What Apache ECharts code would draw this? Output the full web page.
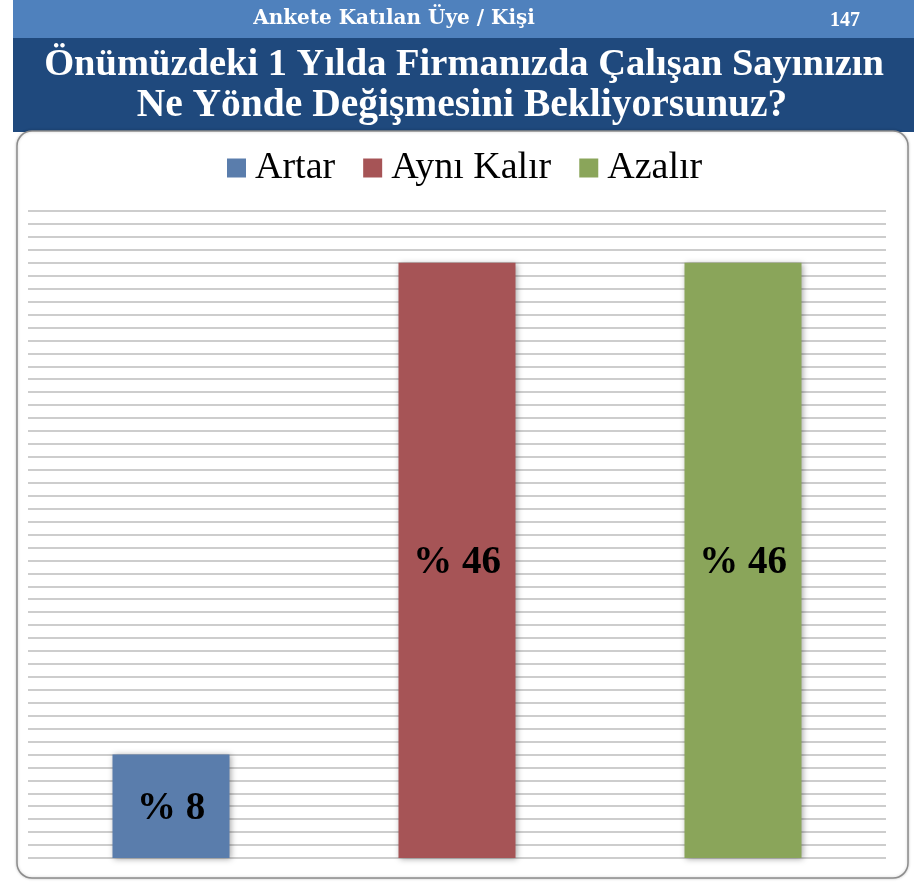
<!DOCTYPE html>
<html>
<head>
<meta charset="utf-8">
<script src="https://cdn.jsdelivr.net/npm/echarts@6/dist/echarts.min.js"></script>
<style>
  html, body { margin: 0; padding: 0; background: #ffffff; }
  #chart { width: 914px; height: 882px; }
</style>
</head>
<body>
<div id="chart"></div>
<script>
// Survey answers: expected change in staff count over the next year
const categories = ['Artar', 'Aynı Kalır', 'Azalır'];
const percentages = [8, 46, 46];
const barColors = ['#5a7dac', '#a65456', '#8aa55a'];
const headerText = 'Ankete Katılan Üye / Kişi';
const respondentCount = '147';
const titleLines = ['Önümüzdeki 1 Yılda Firmanızda Çalışan Sayınızın', 'Ne Yönde Değişmesini Bekliyorsunuz?'];

const chart = echarts.init(document.getElementById('chart'));

// one series per answer so each gets its own legend entry and colour
const series = categories.map((name, i) => ({
  name: name,
  type: 'bar',
  barWidth: 117,
  barGap: '-100%',
  data: categories.map((c, j) => (j === i ? percentages[i] : '-')),
  itemStyle: {
    color: barColors[i],
    shadowColor: 'rgba(0,0,0,0.35)',
    shadowBlur: 6,
    shadowOffsetX: 1,
    shadowOffsetY: 1
  },
  label: {
    show: true,
    position: 'inside',
    offset: [0, 3],
    formatter: p => '% ' + p.value,
    fontFamily: 'Liberation Serif',
    fontWeight: 'bold',
    fontSize: 39,
    color: '#000'
  },
  z: 3
}));

chart.setOption({
  animation: false,
  backgroundColor: '#ffffff',
  graphic: [
    { type: 'rect', shape: { x: 13, y: 0, width: 901, height: 38 }, style: { fill: '#4f81bd' }, z: -10 },
    { type: 'rect', shape: { x: 13, y: 38, width: 901, height: 94 }, style: { fill: '#1f497d' }, z: -10 },
    {
      type: 'rect',
      shape: { x: 17, y: 131, width: 891, height: 747, r: 15 },
      style: { fill: '#ffffff', stroke: '#8c8c8c', lineWidth: 1.5, shadowColor: 'rgba(0,0,0,0.2)', shadowBlur: 3 },
      z: -9
    },
    {
      type: 'text', x: 394, y: 19,
      style: { text: headerText, fill: '#ffffff', font: 'bold 20px "DejaVu Serif"', align: 'center', verticalAlign: 'middle' }, z: 10
    },
    {
      type: 'text', x: 845, y: 21,
      style: { text: respondentCount, fill: '#ffffff', font: 'bold 20px "Liberation Serif"', align: 'center', verticalAlign: 'middle' }, z: 10
    },
    {
      type: 'text', x: 464, y: 65,
      style: { text: titleLines[0], fill: '#ffffff', align: 'center', verticalAlign: 'middle', font: 'bold 38.5px "Liberation Serif"' }, z: 10
    },
    {
      type: 'text', x: 462, y: 106,
      style: { text: titleLines[1], fill: '#ffffff', align: 'center', verticalAlign: 'middle', font: 'bold 39.5px "Liberation Serif"' }, z: 10
    }
  ],
  legend: {
    data: categories,
    top: 144,
    left: 222,
    itemWidth: 19,
    itemHeight: 19,
    itemGap: 28,
    icon: 'rect',
    textStyle: { fontFamily: 'Liberation Serif', fontSize: 38, color: '#000', padding: [0, 0, 0, 4] }
  },
  grid: { left: 28, right: 28, top: 211, bottom: 24 },
  xAxis: {
    type: 'category',
    data: categories,
    axisLine: { show: false },
    axisTick: { show: false },
    axisLabel: { show: false }
  },
  yAxis: {
    type: 'value',
    min: 0,
    max: 50,
    interval: 1,
    axisLine: { show: false },
    axisTick: { show: false },
    axisLabel: { show: false },
    splitLine: { lineStyle: { color: '#bdbdbd', width: 1.5 } }
  },
  series: series
});
</script>
</body>
</html>
